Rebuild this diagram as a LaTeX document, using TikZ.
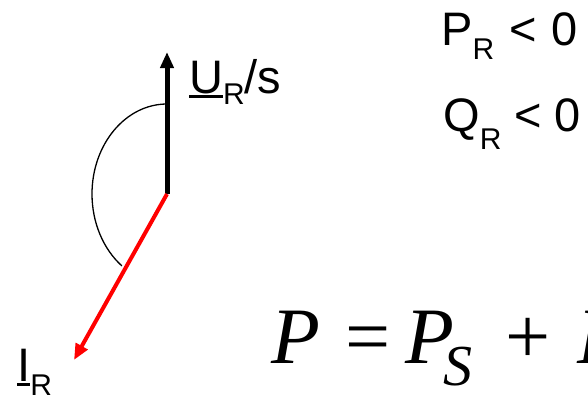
\documentclass[tikz,border=0pt]{standalone}
\usepackage{fontspec}
\setmainfont{Liberation Sans}
\newfontfamily\tnr{Liberation Serif}
\usetikzlibrary{arrows.meta}
\newcommand\myul[1]{\setbox0\hbox{#1}\rlap{\rule[-5pt]{\wd0}{3pt}}\box0}
\newcommand\lblfont{\fontsize{47}{50}\selectfont}
\newcommand\subR[1]{\raisebox{#1}{\fontsize{30}{32}\selectfont R}}
\begin{document}
\begin{tikzpicture}[x=1pt,y=1pt,
  vec/.style={line width=5pt,-{Triangle[length=16pt,width=13pt]}},
  lbl/.style={inner sep=0pt,anchor=base west,font=\lblfont}]
\useasboundingbox (0,0) rectangle (588,-397);
\clip (0,0) rectangle (588,-397);
\coordinate (O) at (167,-194);
\coordinate (Utip) at (167,-52);
\coordinate (Itip) at (74,-360);
\coordinate (A) at (167,-104);
% angle arc
\draw[line width=1.3pt] (A) arc[start angle=90,end angle=233,x radius=75pt,y radius=90pt];
% vectors
\draw[vec,black,line cap=butt] (O) -- (Utip);
\draw[vec,red,line width=4pt] (O) -- (Itip);
% labels
\node[lbl] (ulab) at (189,-93) {\myul{U}\subR{-11pt}/s};
\node[lbl] (ilab) at (17,-381) {\myul{I}\subR{-14pt}};
\node[lbl] (pr) at (441,-45) {P\subR{-14pt}\hspace{2pt} < \hspace{2pt}0};
\node[lbl] (qr) at (443,-131) {Q\subR{-18pt} < 0};
% formula
\node[inner sep=0pt,anchor=base west,font=\fontsize{80}{84}\selectfont\tnr] (eq) at (271,-363)
  {\textit{P}\hspace{25pt}=\hspace{15pt}\textit{P}\hspace{-11pt}\raisebox{-22pt}{\fontsize{58}{60}\selectfont\textit{S}}\hspace{33pt}+\hspace{27pt}\textit{P}};
\end{tikzpicture}
\end{document}
